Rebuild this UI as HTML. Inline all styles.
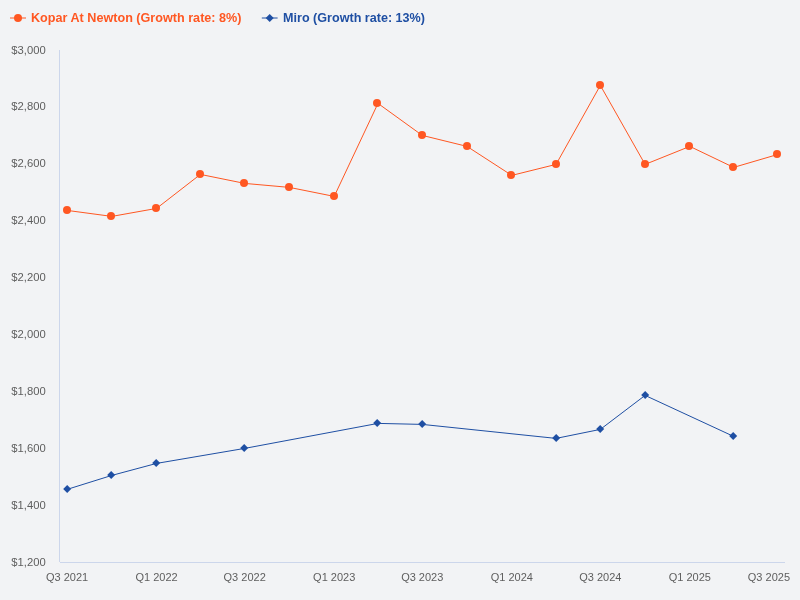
<!DOCTYPE html>
<html><head><meta charset="utf-8"><title>Chart</title>
<style>
html,body{margin:0;padding:0;background:#f2f3f5;}
body{width:800px;height:600px;overflow:hidden;font-family:"Liberation Sans",sans-serif;}
svg{display:block;will-change:transform}
.ax{font-family:"Liberation Sans",sans-serif;font-size:11px;fill:#5e5e5e;}
.lg{font-family:"Liberation Sans",sans-serif;font-size:12px;font-weight:bold;}
</style></head><body>
<svg width="800" height="600" viewBox="0 0 800 600">
<rect width="800" height="600" fill="#f2f3f5"/>
<rect x="59" y="50" width="1" height="512" fill="#ccd6eb"/><rect x="60" y="562" width="725" height="1" fill="#ccd6eb"/>
<polyline points="67.08,210.4 111.84,216.4 156.6,208.4 200.39,174.4 244.67,183.4 289.43,187.4 334.19,196.4 377.98,103.4 422.25,135.4 467.02,146.4 511.78,175.4 556.05,164.4 600.33,85.4 645.09,164.4 689.85,146.4 733.64,167.4 777.92,154.4" fill="none" stroke="#ff5722" stroke-width="1" stroke-linejoin="round"/>
<circle cx="67" cy="210" r="4" fill="#ff5722"/><circle cx="111" cy="216" r="4" fill="#ff5722"/><circle cx="156" cy="208" r="4" fill="#ff5722"/><circle cx="200" cy="174" r="4" fill="#ff5722"/><circle cx="244" cy="183" r="4" fill="#ff5722"/><circle cx="289" cy="187" r="4" fill="#ff5722"/><circle cx="334" cy="196" r="4" fill="#ff5722"/><circle cx="377" cy="103" r="4" fill="#ff5722"/><circle cx="422" cy="135" r="4" fill="#ff5722"/><circle cx="467" cy="146" r="4" fill="#ff5722"/><circle cx="511" cy="175" r="4" fill="#ff5722"/><circle cx="556" cy="164" r="4" fill="#ff5722"/><circle cx="600" cy="85" r="4" fill="#ff5722"/><circle cx="645" cy="164" r="4" fill="#ff5722"/><circle cx="689" cy="146" r="4" fill="#ff5722"/><circle cx="733" cy="167" r="4" fill="#ff5722"/><circle cx="777" cy="154" r="4" fill="#ff5722"/>
<polyline points="67.08,489.4 111.84,475.4 156.6,463.4 244.67,448.4 377.98,423.4 422.25,424.4 556.05,438.4 600.33,429.4 645.09,395.4 733.64,436.4" fill="none" stroke="#1f4fa3" stroke-width="1" stroke-linejoin="round"/>
<path d="M67.2 485L71.2 489L67.2 493L63.2 489Z" fill="#1f4fa3"/><path d="M111.2 471L115.2 475L111.2 479L107.2 475Z" fill="#1f4fa3"/><path d="M156.2 459L160.2 463L156.2 467L152.2 463Z" fill="#1f4fa3"/><path d="M244.2 444L248.2 448L244.2 452L240.2 448Z" fill="#1f4fa3"/><path d="M377.2 419L381.2 423L377.2 427L373.2 423Z" fill="#1f4fa3"/><path d="M422.2 420L426.2 424L422.2 428L418.2 424Z" fill="#1f4fa3"/><path d="M556.2 434L560.2 438L556.2 442L552.2 438Z" fill="#1f4fa3"/><path d="M600.2 425L604.2 429L600.2 433L596.2 429Z" fill="#1f4fa3"/><path d="M645.2 391L649.2 395L645.2 399L641.2 395Z" fill="#1f4fa3"/><path d="M733.2 432L737.2 436L733.2 440L729.2 436Z" fill="#1f4fa3"/>
<text x="11.3" y="54" class="ax" textLength="34.4" lengthAdjust="spacingAndGlyphs">$3,000</text><text x="11.3" y="110" class="ax" textLength="34.4" lengthAdjust="spacingAndGlyphs">$2,800</text><text x="11.3" y="167" class="ax" textLength="34.4" lengthAdjust="spacingAndGlyphs">$2,600</text><text x="11.3" y="224" class="ax" textLength="34.4" lengthAdjust="spacingAndGlyphs">$2,400</text><text x="11.3" y="281" class="ax" textLength="34.4" lengthAdjust="spacingAndGlyphs">$2,200</text><text x="11.3" y="338" class="ax" textLength="34.4" lengthAdjust="spacingAndGlyphs">$2,000</text><text x="11.3" y="395" class="ax" textLength="34.4" lengthAdjust="spacingAndGlyphs">$1,800</text><text x="11.3" y="452" class="ax" textLength="34.4" lengthAdjust="spacingAndGlyphs">$1,600</text><text x="11.3" y="509" class="ax" textLength="34.4" lengthAdjust="spacingAndGlyphs">$1,400</text><text x="11.3" y="566" class="ax" textLength="34.4" lengthAdjust="spacingAndGlyphs">$1,200</text>
<text x="67.08" y="581" class="ax" text-anchor="middle">Q3 2021</text><text x="156.6" y="581" class="ax" text-anchor="middle">Q1 2022</text><text x="244.67" y="581" class="ax" text-anchor="middle">Q3 2022</text><text x="334.19" y="581" class="ax" text-anchor="middle">Q1 2023</text><text x="422.25" y="581" class="ax" text-anchor="middle">Q3 2023</text><text x="511.78" y="581" class="ax" text-anchor="middle">Q1 2024</text><text x="600.33" y="581" class="ax" text-anchor="middle">Q3 2024</text><text x="689.85" y="581" class="ax" text-anchor="middle">Q1 2025</text><text x="790" y="581" class="ax" text-anchor="end">Q3 2025</text>
<path d="M10 18H26" stroke="#ff5722" stroke-width="1"/><circle cx="18" cy="18" r="4" fill="#ff5722"/><text x="31" y="22" class="lg" fill="#ff5722" textLength="210.5" lengthAdjust="spacingAndGlyphs">Kopar At Newton (Growth rate: 8%)</text>
<path d="M261.8 18H277.6" stroke="#1f4fa3" stroke-width="1"/><path d="M269.7 14L273.7 18L269.7 22L265.7 18Z" fill="#1f4fa3"/><text x="283" y="22" class="lg" fill="#1f4fa3" textLength="142" lengthAdjust="spacingAndGlyphs">Miro (Growth rate: 13%)</text>
</svg>
</body></html>
